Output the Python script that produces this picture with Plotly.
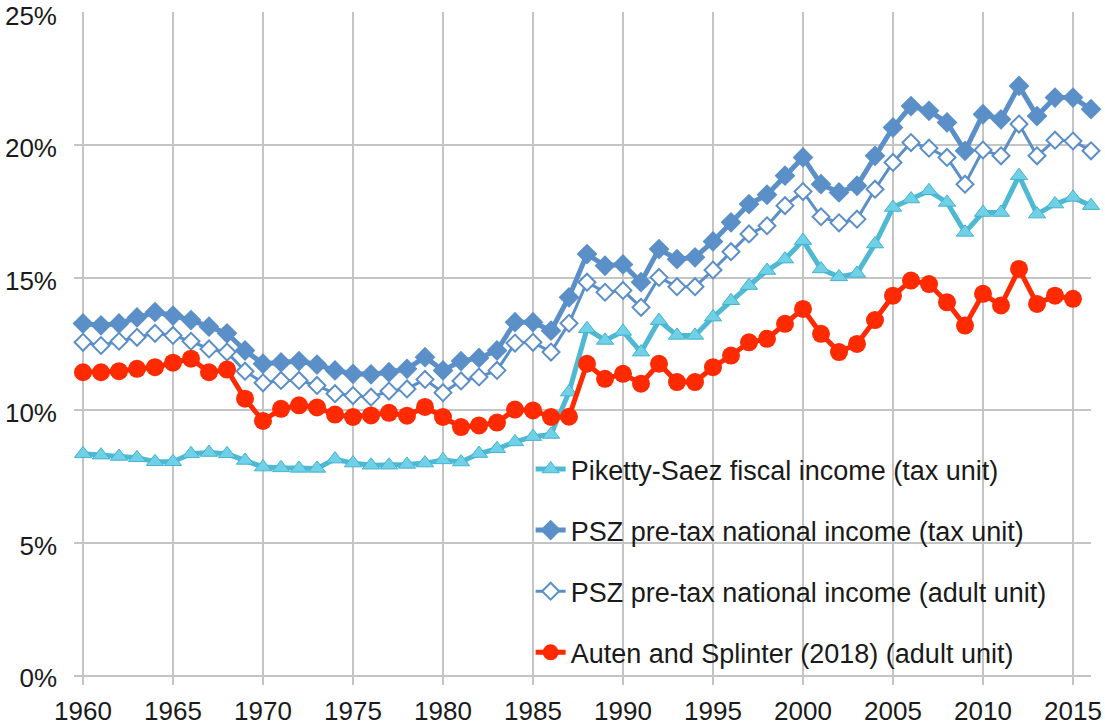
import plotly.graph_objects as go

years = list(range(1960, 2017))

piketty_saez = [8.35, 8.3, 8.25, 8.2, 8.05, 8.05, 8.35, 8.4, 8.35, 8.1,
                7.85, 7.82, 7.8, 7.8, 8.15, 8.0, 7.92, 7.92, 7.95, 8.0,
                8.12, 8.04, 8.36, 8.54, 8.8, 9.0, 9.08, 10.68, 13.07, 12.63,
                12.97, 12.19, 13.38, 12.82, 12.82, 13.51, 14.13, 14.7, 15.27, 15.7,
                16.4, 15.33, 15.03, 15.16, 16.27, 17.65, 17.97, 18.28, 17.84, 16.71,
                17.46, 17.46, 18.85, 17.4, 17.78, 18.03, 17.72]

psz_tax_unit = [13.27, 13.2, 13.27, 13.5, 13.7, 13.57, 13.4, 13.15, 12.9, 12.25,
                11.75, 11.8, 11.85, 11.72, 11.5, 11.37, 11.35, 11.43, 11.56, 12.0,
                11.5, 11.85, 11.97, 12.25, 13.32, 13.32, 13.0, 14.26, 15.89, 15.45,
                15.5, 14.83, 16.08, 15.7, 15.77, 16.37, 17.09, 17.78, 18.13, 18.85,
                19.54, 18.53, 18.22, 18.47, 19.6, 20.67, 21.48, 21.3, 20.86, 19.79,
                21.17, 20.98, 22.24, 21.1, 21.8, 21.8, 21.36]

psz_adult_unit = [12.56, 12.44, 12.6, 12.75, 12.9, 12.82, 12.6, 12.31, 12.19, 11.47,
                  11.03, 11.12, 11.12, 10.93, 10.62, 10.55, 10.49, 10.72, 10.8, 11.16,
                  10.66, 11.1, 11.25, 11.5, 12.53, 12.56, 12.19, 13.28, 14.83, 14.45,
                  14.52, 13.88, 15.01, 14.66, 14.66, 15.29, 15.98, 16.65, 16.96, 17.72,
                  18.25, 17.3, 17.07, 17.21, 18.34, 19.35, 20.1, 19.89, 19.54, 18.53,
                  19.82, 19.6, 20.8, 19.6, 20.19, 20.16, 19.79]

auten_splinter = [11.43, 11.43, 11.47, 11.56, 11.62, 11.79, 11.94, 11.43, 11.53, 10.43,
                  9.59, 10.05, 10.18, 10.1, 9.83, 9.74, 9.8, 9.9, 9.79, 10.12,
                  9.74, 9.36, 9.42, 9.53, 10.02, 9.99, 9.74, 9.75, 11.75, 11.18,
                  11.37, 11.0, 11.75, 11.06, 11.06, 11.62, 12.06, 12.56, 12.69, 13.26,
                  13.82, 12.88, 12.19, 12.5, 13.4, 14.32, 14.89, 14.76, 14.07, 13.19,
                  14.39, 13.95, 15.33, 14.01, 14.32, 14.2, None]

LIGHT = '#4fb9d3'
BLUE = '#5b8fc8'
RED = '#ff2a00'
GRID = '#c4c4c4'
FONT = 'Liberation Sans, Arial, sans-serif'

fig = go.Figure()

fig.add_trace(go.Scatter(x=years, y=piketty_saez, mode='lines+markers',
                         name='Piketty-Saez fiscal income (tax unit)',
                         legendgroup='a', cliponaxis=False,
                         line=dict(color=LIGHT, width=5),
                         marker=dict(symbol='triangle-up', size=15, color='#6fd0e6',
                                     line=dict(color='#45b3cf', width=1))))

fig.add_trace(go.Scatter(x=years, y=psz_tax_unit, mode='lines+markers',
                         name='PSZ pre-tax national income (tax unit)',
                         legendgroup='b', cliponaxis=False,
                         line=dict(color=BLUE, width=5),
                         marker=dict(symbol='diamond', size=16, color=BLUE)))

fig.add_trace(go.Scatter(x=years, y=psz_adult_unit, mode='lines+markers',
                         name='PSZ pre-tax national income (adult unit)',
                         legendgroup='c', cliponaxis=False,
                         line=dict(color=BLUE, width=3),
                         marker=dict(symbol='diamond', size=13, color='white',
                                     line=dict(color=BLUE, width=2))))

fig.add_trace(go.Scatter(x=years, y=auten_splinter, mode='lines+markers',
                         name='Auten and Splinter (2018) (adult unit)',
                         legendgroup='d', cliponaxis=False,
                         line=dict(color=RED, width=5),
                         marker=dict(symbol='circle', size=18, color=RED)))

fig.update_layout(
    width=1105, height=725,
    margin=dict(l=74, r=14, t=12, b=50, autoexpand=False),
    paper_bgcolor='white', plot_bgcolor='white',
    font=dict(family=FONT, size=26, color='#1a1a1a'),
    legend=dict(x=0.449, y=0.347, xanchor='left', yanchor='top',
                bgcolor='rgba(0,0,0,0)', tracegroupgap=23,
                font=dict(size=27, family=FONT, color='#1a1a1a')),
    showlegend=True,
)

fig.update_xaxes(range=[1959.5, 2016], tickmode='linear', tick0=1960, dtick=5,
                 automargin=False, ticklabeloverflow='allow',
                 showgrid=True, gridcolor=GRID, gridwidth=1.5,
                 showline=True, linecolor=GRID, linewidth=1.5,
                 ticks='outside', ticklen=8, tickcolor=GRID, tickwidth=1.5,
                 ticklabelstandoff=4, zeroline=False)

fig.update_yaxes(range=[0, 25.03], tickmode='linear', tick0=0, dtick=5,
                 automargin=False, ticklabeloverflow='allow',
                 ticksuffix='%', showgrid=True, gridcolor=GRID, gridwidth=1.5,
                 zeroline=False, showline=False, ticks='',
                 ticklabelstandoff=16, ticklabelshift=3)

# drop the default 8px body margin so the figure fills the window
fig.write_html("out.html", config={'displayModeBar': False},
               post_script="document.body.style.margin='0';")
